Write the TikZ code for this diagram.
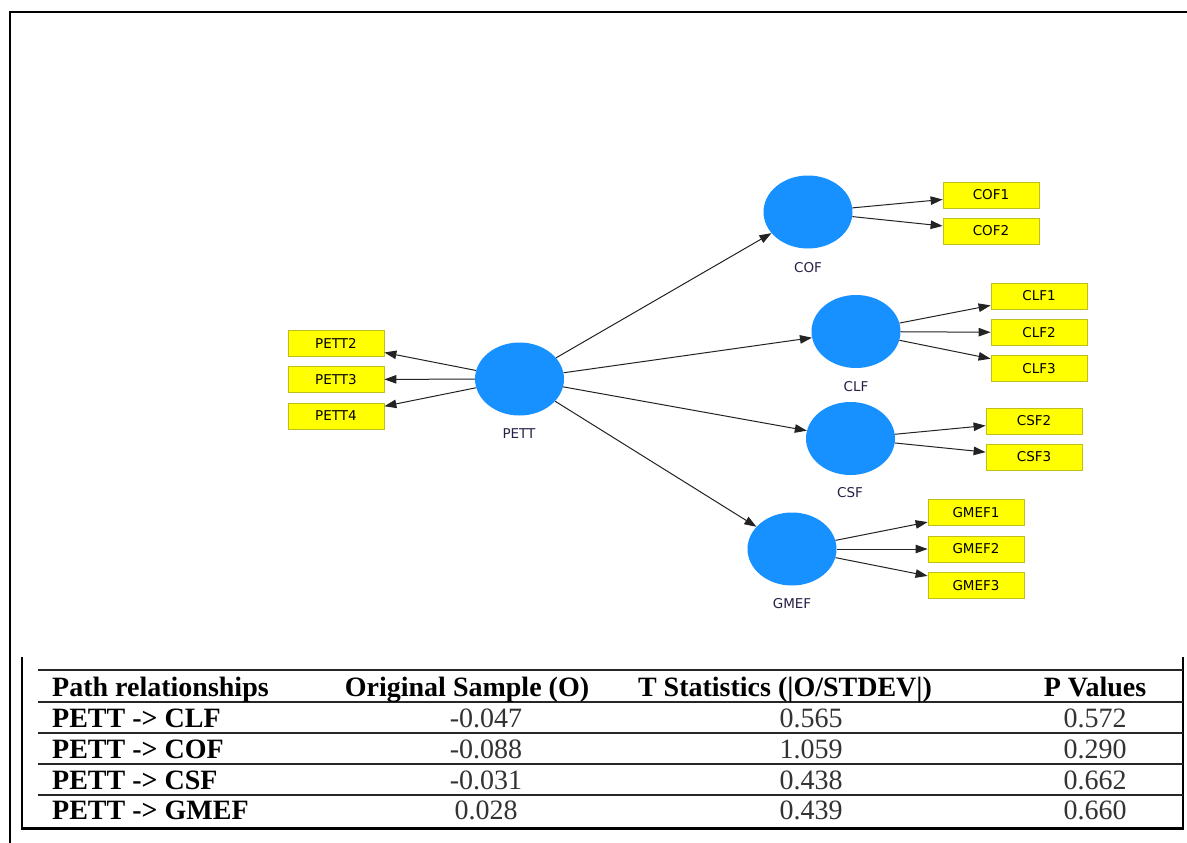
\documentclass[tikz,border=0pt]{standalone}
\usepackage{fontspec}
\setmainfont{Liberation Serif}
\newfontfamily\diagfont{DejaVu Sans}
\usetikzlibrary{arrows.meta,shapes.geometric}
\definecolor{lvblue}{RGB}{22,145,255}
\definecolor{indyellow}{RGB}{255,255,0}
\definecolor{indborder}{RGB}{190,190,30}
\definecolor{linecol}{RGB}{35,35,35}
\definecolor{labelcol}{RGB}{40,30,70}
\begin{document}
\begin{tikzpicture}[x=1pt,y=-1pt,
  latent/.style={ellipse, fill=lvblue, minimum width=89pt, minimum height=73pt, inner sep=0pt},
  indicator/.style={rectangle, fill=indyellow, draw=indborder, line width=0.8pt,
    minimum width=96pt, minimum height=26pt, inner sep=0pt,
    font=\diagfont\fontsize{13.5}{15}\selectfont},
  lvlabel/.style={font=\diagfont\fontsize{13.5}{15}\selectfont, text=labelcol, inner sep=0pt},
  pathline/.style={draw=linecol, line width=1pt, -{Triangle[length=12pt,width=8.5pt]}},
  framerule/.style={line width=2.8pt, black},
  tablerule/.style={line width=1.5pt, black!85},
  headtext/.style={font=\fontsize{28}{30}\selectfont\bfseries, inner sep=0pt},
  celltext/.style={font=\fontsize{28}{30}\selectfont, inner sep=0pt, text=black!80}
]
\useasboundingbox (0,0) rectangle (1187,843);
\fill[white] (0,0) rectangle (1187,843);

% outer frame
\draw[framerule] (10,843) -- (10,12) -- (1187,12);

% latent variables
\node[latent] (pett) at (519.5,379) {};
\node[latent] (cof) at (808,212) {};
\node[latent] (clf) at (856,331.5) {};
\node[latent] (csf) at (850.5,438.5) {};
\node[latent] (gmef) at (792,549) {};

\node[lvlabel] (pettlab) at (519,434) {PETT};
\node[lvlabel] (coflab) at (808,268) {COF};
\node[lvlabel] (clflab) at (856,387) {CLF};
\node[lvlabel] (csflab) at (850,493) {CSF};
\node[lvlabel] (gmeflab) at (792,604) {GMEF};

% indicators
\node[indicator] (pett2) at (336,343) {PETT2};
\node[indicator] (pett3) at (336,379.5) {PETT3};
\node[indicator] (pett4) at (336,416) {PETT4};
\node[indicator] (cof1) at (991,195) {COF1};
\node[indicator] (cof2) at (991,231) {COF2};
\node[indicator] (clf1) at (1039,296) {CLF1};
\node[indicator] (clf2) at (1039,332.5) {CLF2};
\node[indicator] (clf3) at (1039,368.5) {CLF3};
\node[indicator] (csf2) at (1034,421) {CSF2};
\node[indicator] (csf3) at (1034,457) {CSF3};
\node[indicator] (gmef1) at (976,512.5) {GMEF1};
\node[indicator] (gmef2) at (976,549) {GMEF2};
\node[indicator] (gmef3) at (976,585.5) {GMEF3};

% paths
\draw[pathline] (pett) -- (pett2);
\draw[pathline] (pett) -- (pett3);
\draw[pathline] (pett) -- (pett4);
\draw[pathline] (pett) -- (cof);
\draw[pathline] (pett) -- (clf);
\draw[pathline] (pett) -- (csf);
\draw[pathline] (pett) -- (gmef);
\draw[pathline] (cof) -- (cof1);
\draw[pathline] (cof) -- (cof2);
\draw[pathline] (clf) -- (clf1);
\draw[pathline] (clf) -- (clf2);
\draw[pathline] (clf) -- (clf3);
\draw[pathline] (csf) -- (csf2);
\draw[pathline] (csf) -- (csf3);
\draw[pathline] (gmef) -- (gmef1);
\draw[pathline] (gmef) -- (gmef2);
\draw[pathline] (gmef) -- (gmef3);

% table frame
\draw[line width=1.8pt] (22,657) -- (22,828);
\draw[line width=1.8pt] (1183,657) -- (1183,828);
\draw[line width=3pt] (21.1,828) -- (1183.9,828);
\foreach \yy in {670,702,733,764,795} {
  \draw[tablerule] (38,\yy) -- (1183,\yy);
}

% table header
\node[headtext, anchor=base west] (h1) at (52,696) {Path relationships};
\node[headtext, anchor=base] (h2) at (467,696) {Original Sample (O)};
\node[headtext, anchor=base] (h3) at (785,696) {T Statistics (|O/STDEV|)};
\node[headtext, anchor=base] (h4) at (1095,696) {P Values};

% table rows
\node[headtext, anchor=base west] (r1c1) at (52,727) {PETT -> CLF};
\node[celltext, anchor=base] (r1c2) at (486,727) {-0.047};
\node[celltext, anchor=base] (r1c3) at (811,727) {0.565};
\node[celltext, anchor=base] (r1c4) at (1095,727) {0.572};

\node[headtext, anchor=base west] (r2c1) at (52,758) {PETT -> COF};
\node[celltext, anchor=base] (r2c2) at (486,758) {-0.088};
\node[celltext, anchor=base] (r2c3) at (811,758) {1.059};
\node[celltext, anchor=base] (r2c4) at (1095,758) {0.290};

\node[headtext, anchor=base west] (r3c1) at (52,789) {PETT -> CSF};
\node[celltext, anchor=base] (r3c2) at (486,789) {-0.031};
\node[celltext, anchor=base] (r3c3) at (811,789) {0.438};
\node[celltext, anchor=base] (r3c4) at (1095,789) {0.662};

\node[headtext, anchor=base west] (r4c1) at (52,819) {PETT -> GMEF};
\node[celltext, anchor=base] (r4c2) at (486,819) {0.028};
\node[celltext, anchor=base] (r4c3) at (811,819) {0.439};
\node[celltext, anchor=base] (r4c4) at (1095,819) {0.660};
\end{tikzpicture}
\end{document}
